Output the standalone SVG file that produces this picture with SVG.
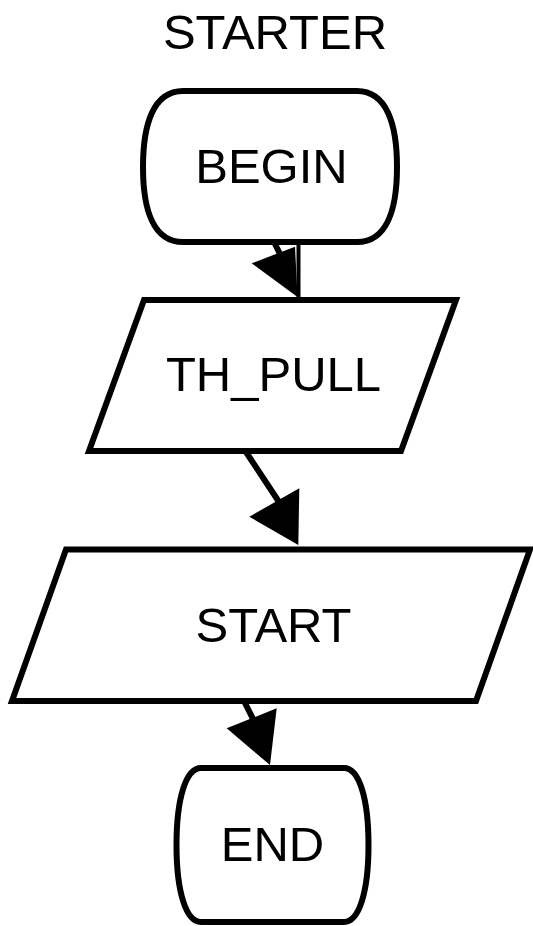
<svg xmlns="http://www.w3.org/2000/svg" width="533" height="926" viewBox="0 0 533 926">
  <style>
    .shape { fill: #ffffff; stroke: #000000; stroke-width: 6; stroke-linejoin: miter; }
    .label { font-family: "Liberation Sans", Arial, sans-serif; font-size: 49px; fill: #000000; text-anchor: middle; }
    .edge { fill: none; stroke: #000000; stroke-width: 6; }
    .thin { fill: none; stroke: #000000; stroke-width: 4; }
    .head { fill: #000000; stroke: none; }
  </style>
  <rect width="533" height="926" fill="#ffffff"/>

  <text class="label" x="275" y="49">STARTER</text>

  <g id="node-begin">
    <path class="shape" d="M183,91 H357 C387,91 397,125 397,167 C397,209 387,242 357,242 H183 C153,242 143,209 143,167 C143,125 153,91 183,91 Z"/>
    <text class="label" x="271.5" y="183">BEGIN</text>
  </g>

  <g id="node-th-pull">
    <polygon class="shape" points="144,300 456,300 401,451 89,451"/>
    <text class="label" x="273.5" y="391">TH_PULL</text>
  </g>

  <g id="node-start">
    <polygon class="shape" points="66,549.5 530,549.5 476,701 12,701"/>
    <text class="label" x="273.5" y="642">START</text>
  </g>

  <g id="node-end">
    <path class="shape" d="M201,768 H344 C359,768 368.5,798 368.5,845 C368.5,892 359,922 344,922 H201 C186,922 176.5,892 176.5,845 C176.5,798 186,768 201,768 Z"/>
    <text class="label" x="272.5" y="861">END</text>
  </g>

  <g id="connectors">
    <!-- BEGIN -> TH_PULL -->
    <line class="thin" x1="298.5" y1="242" x2="298.5" y2="297"/>
    <line class="edge" x1="274" y1="242" x2="287" y2="268"/>
    <polygon class="head" points="251.7,263.3 295,246.7 297.5,297"/>
    <!-- TH_PULL -> START -->
    <line class="edge" x1="246" y1="452" x2="283" y2="508"/>
    <polygon class="head" points="249.3,516.7 299.3,488.3 298.3,545"/>
    <!-- START -> END -->
    <line class="edge" x1="244" y1="701" x2="256" y2="725"/>
    <polygon class="head" points="226.7,728.3 276.7,708.3 270,765"/>
  </g>
</svg>
